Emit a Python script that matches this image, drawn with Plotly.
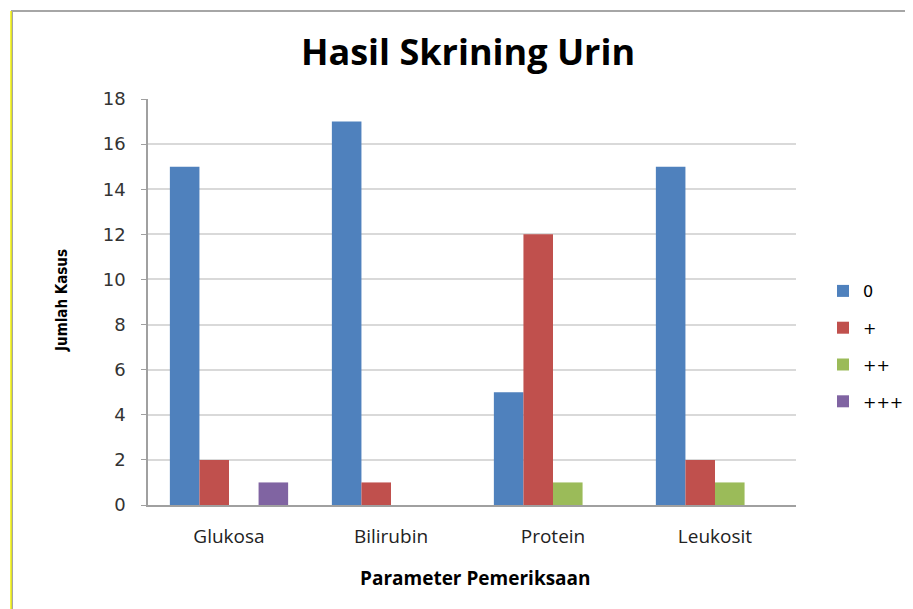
import plotly.graph_objects as go

categories = ["Glukosa", "Bilirubin", "Protein", "Leukosit"]
series_names = ["0", "+", "++", "+++"]
vals_0 = [15, 17, 5, 15]
vals_plus = [2, 1, 12, 2]
vals_plus2 = [0, 0, 1, 1]
vals_plus3 = [1, 0, 0, 0]
colors = ["#4F81BD", "#C0504D", "#9BBB59", "#8064A2"]

OFF = 8  # page body margin
W, H = 913 - OFF, 609 - OFF
# plot area in screen pixels
PX0, PX1, PY0, PY1 = 148, 796, 99, 505
L, R, T, B = PX0 - OFF, W - (PX1 - OFF), PY0 - OFF, H - (PY1 - OFF)
pw, ph = W - L - R, H - T - B

def px_x(x):
    return (x - OFF - L) / pw

def px_y(y):
    return (H - B - (y - OFF)) / ph

fig = go.Figure()
for name, vals, c in zip(series_names, [vals_0, vals_plus, vals_plus2, vals_plus3], colors):
    fig.add_trace(go.Bar(x=categories, y=vals, name=name, legendgroup=name,
                         marker=dict(color=c, line=dict(width=0))))

fig.update_layout(
    width=W, height=H,
    margin=dict(l=L, r=R, t=T, b=B, autoexpand=False),
    paper_bgcolor="white", plot_bgcolor="white",
    barmode="group", bargap=0.27, bargroupgap=0,
    title=dict(text="<b>Hasil Skrining Urin</b>", x=(468 - OFF) / W, xref="container", xanchor="center",
               y=1 - (52 - OFF) / H, yref="container", yanchor="middle",
               font=dict(family="Open Sans", size=36, color="black")),
    legend=dict(x=px_x(823), y=px_y(274), xanchor="left", yanchor="top", xref="paper", yref="paper",
                font=dict(family="DejaVu Sans", size=16, color="black"),
                tracegroupgap=13, itemwidth=30, bgcolor="rgba(0,0,0,0)"),
    xaxis=dict(showline=True, linecolor="#A0A0A0", linewidth=1.5, ticks="",
               tickfont=dict(family="Open Sans", size=19, color="#222"),
               ticklabelstandoff=13),
    yaxis=dict(range=[0, 18], dtick=2, showline=True, linecolor="#A0A0A0", linewidth=1.5,
               ticks="outside", ticklen=5, tickcolor="#A0A0A0",
               gridcolor="#D9D9D9", gridwidth=1.5, zeroline=False,
               tickfont=dict(family="DejaVu Sans", size=18, color="#333"),
               ticklabelstandoff=12),
    showlegend=True,
)

# axis titles
fig.add_annotation(text="<b>Parameter Pemeriksaan</b>", xref="paper", yref="paper",
                   x=px_x(475), y=px_y(578), xanchor="center", yanchor="middle", showarrow=False,
                   font=dict(family="Open Sans", size=19, color="black"))
fig.add_annotation(text="<b>Jumlah Kasus</b>", xref="paper", yref="paper", textangle=-90,
                   x=px_x(62), y=px_y(301), xanchor="center", yanchor="middle", showarrow=False,
                   font=dict(family="DejaVu Sans Condensed", size=15, color="black"))

# chart frame
fig.add_shape(type="rect", xref="paper", yref="paper",
              x0=px_x(12), x1=px_x(913 + 5), y0=px_y(609 + 5), y1=px_y(11),
              line=dict(color="#A6A6A6", width=2), layer="below")
fig.add_shape(type="line", xref="paper", yref="paper",
              x0=px_x(11), x1=px_x(11), y0=px_y(609 + 5), y1=px_y(11),
              line=dict(color="#F2F200", width=1.5))

fig.write_html("out.html")
